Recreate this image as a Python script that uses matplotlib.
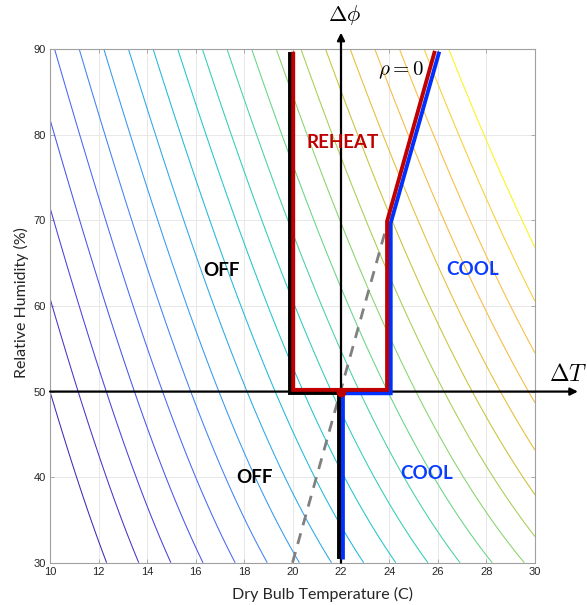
import numpy as np
import matplotlib
matplotlib.use('Agg')
import matplotlib.pyplot as plt
from matplotlib.colors import LinearSegmentedColormap

# --- data --------------------------------------------------------------
# background level lines: level field = slope(RH) * (T - 10) + g(RH)
# slope: levels per degC at RH=30 (spacing 1.325 C) and RH=90 (spacing 1.016 C)
per_deg_30 = 1 / 1.325
per_deg_90 = 1 / 1.016
rh_lin = 0.0905      # levels per % RH along T=10
rh_quad = 0.00012
levels = list(range(0, 21))

# mode boundaries (T in C, RH in %)
off_T = [19.89, 19.89, 21.93, 21.93]
off_RH = [89.4, 49.8, 49.8, 30.7]
reheat_T = [20.03, 20.03, 23.9, 23.9, 25.85]
reheat_RH = [89.5, 50.2, 50.2, 69.9, 89.6]
cool_T = [22.08, 22.08, 24.05, 24.05, 26.03]
cool_RH = [30.6, 49.8, 49.8, 69.7, 89.5]
rho_T = [20.0, 23.85]
rho_RH = [30.0, 69.0]
setpoint = (22.0, 50.0)

region_labels = [('OFF', 17.08, 64.1, 'black'),
                 ('OFF', 18.45, 40.0, 'black'),
                 ('REHEAT', 22.06, 79.1, '#c00000'),
                 ('COOL', 27.42, 64.25, '#0a3cff'),
                 ('COOL', 25.55, 40.4, '#0a3cff')]

x_ticks = list(range(10, 31, 2))
y_ticks = list(range(30, 91, 10))

# parula-like map, tuned to the line colours in the picture
parula = LinearSegmentedColormap.from_list('parula', [
    (0.00, (0.26, 0.16, 0.70)),
    (0.10, (0.29, 0.25, 0.88)),
    (0.20, (0.28, 0.40, 0.97)),
    (0.25, (0.25, 0.50, 0.96)),
    (0.30, (0.20, 0.60, 0.94)),
    (0.40, (0.12, 0.72, 0.86)),
    (0.45, (0.13, 0.77, 0.80)),
    (0.50, (0.18, 0.80, 0.72)),
    (0.55, (0.28, 0.82, 0.62)),
    (0.60, (0.40, 0.83, 0.52)),
    (0.65, (0.52, 0.83, 0.42)),
    (0.70, (0.64, 0.81, 0.32)),
    (0.75, (0.78, 0.76, 0.22)),
    (0.80, (0.90, 0.74, 0.20)),
    (0.85, (0.97, 0.72, 0.25)),
    (0.90, (0.98, 0.74, 0.25)),
    (0.95, (0.98, 0.80, 0.20)),
    (1.00, (0.98, 0.96, 0.10))])

plt.rcParams['mathtext.fontset'] = 'cm'

fig = plt.figure(figsize=(5.87, 6.05), dpi=100)
ax = fig.add_axes([0.0852, 0.0699, 0.8262, 0.8486])

T = np.linspace(10, 30, 401)
RH = np.linspace(30, 90, 301)
TT, HH = np.meshgrid(T, RH)
slope = per_deg_30 + (per_deg_90 - per_deg_30) * np.log(HH / 30) / np.log(3)
field = slope * (TT - 10) + rh_lin * (HH - 50) + rh_quad * (HH - 50) ** 2
ax.contour(TT, HH, field, levels=levels, cmap=parula, vmin=min(levels), vmax=max(levels),
           linewidths=0.75, zorder=1)

ax.set_xlim(10, 30)
ax.set_ylim(30, 90)
ax.set_xticks(x_ticks)
ax.set_yticks(y_ticks)
ax.grid(True, color='#e8e8e8', lw=0.7, zorder=0)
ax.set_axisbelow(True)
for s in ax.spines.values():
    s.set_color('#a0a0a0')
    s.set_linewidth(0.8)
ax.tick_params(direction='in', length=3, width=0.6, color='#a0a0a0', top=True, right=True,
               labelsize=8, labelcolor='#262626', pad=3)
for lab in ax.get_xticklabels() + ax.get_yticklabels():
    lab.set_family('Liberation Sans')

# delta-T and delta-phi axes
arrow = dict(arrowstyle='-|>', lw=1.6, color='black', mutation_scale=11, shrinkA=0, shrinkB=0)
ax.annotate('', xy=(31.77, 50), xytext=(10, 50), arrowprops=arrow, annotation_clip=False, zorder=3)
ax.annotate('', xy=(22, 91.94), xytext=(22, 30), arrowprops=arrow, annotation_clip=False, zorder=3)

ax.plot(rho_T, rho_RH, color='#808080', lw=2.0, ls=(0, (4, 3)), zorder=2)
ax.plot(off_T, off_RH, color='black', lw=2.8, zorder=4, solid_joinstyle='miter')
ax.plot(cool_T, cool_RH, color='#0030ff', lw=2.8, zorder=4, solid_joinstyle='miter')
ax.plot(reheat_T, reheat_RH, color='#c00000', lw=2.8, zorder=5, solid_joinstyle='miter')
ax.plot(*setpoint, 'o', color='#c00000', ms=6, zorder=6)

for txt, x, y, c in region_labels:
    ax.text(x, y, txt, color=c, fontsize=13.5, fontweight='bold', family='Lato',
            ha='center', va='center', zorder=7)

ax.text(24.47, 87.6, r'$\rho = 0$', fontsize=15, ha='center', va='center', zorder=7)
ax.text(22.16, 94.0, r'$\Delta\phi$', fontsize=16, ha='center', va='center', clip_on=False)
ax.text(31.36, 52.1, r'$\Delta T$', fontsize=17, ha='center', va='center', clip_on=False)

fig.text(323 / 587, 1 - 594 / 605, 'Dry Bulb Temperature (C)', family='Lato', fontsize=11.5,
         ha='center', va='center', color='#262626')
fig.text(21 / 587, 0.5, 'Relative Humidity (%)', family='Lato', fontsize=11.5,
         ha='center', va='center', rotation=90, color='#262626')

fig.savefig('out.png', dpi=100)
